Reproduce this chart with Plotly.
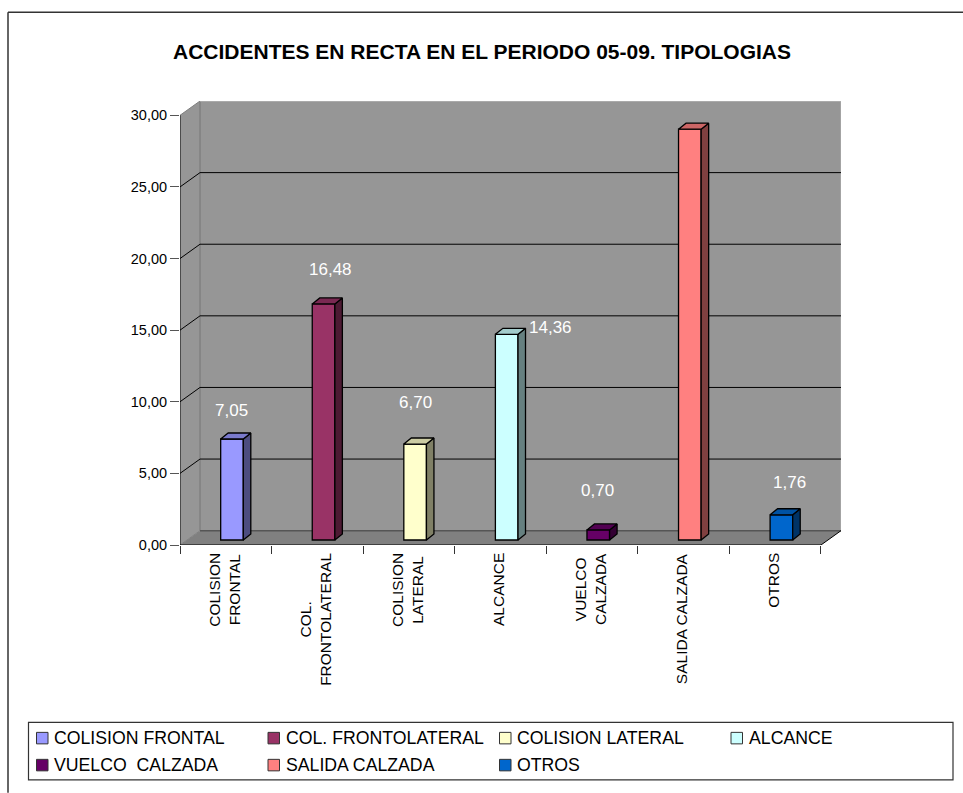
import plotly.graph_objects as go

categories = ["COLISION FRONTAL", "COL. FRONTOLATERAL", "COLISION LATERAL", "ALCANCE",
              "VUELCO  CALZADA", "SALIDA CALZADA", "OTROS"]
axis_labels = ["COLISION<br>FRONTAL", "COL.<br>FRONTOLATERAL", "COLISION<br>LATERAL", "ALCANCE",
               "VUELCO<br>CALZADA", "SALIDA CALZADA", "OTROS"]
values = [7.05, 16.48, 6.70, 14.36, 0.70, 28.68, 1.76]
value_labels = ["7,05", "16,48", "6,70", "14,36", "0,70", "28,68", "1,76"]
y_ticks = [0, 5, 10, 15, 20, 25, 30]
y_tick_labels = ["0,00", "5,00", "10,00", "15,00", "20,00", "25,00", "30,00"]
title = "ACCIDENTES EN RECTA EN EL PERIODO 05-09. TIPOLOGIAS"

# styles
front_colors = ["#9999FF", "#993366", "#FFFFCC", "#CCFFFF", "#660066", "#FF8080", "#0066CC"]
side_colors = ["#4D4D80", "#4D1A33", "#808066", "#668080", "#330033", "#804040", "#003366"]
top_colors = ["#7A7ACC", "#7A2952", "#CCCCA3", "#A3CCCC", "#520052", "#CC6666", "#0052A3"]
label_shift_x = [0, 7, 0, 44, -1, 3, 8]
label_shift_y = [29, 34, 42, 7, 39, 36, 32]

FONT = "Liberation Sans, Arial, sans-serif"
L, R, T, B = 180.0, 841.0, 100.7, 545.0   # plot-area pixel box
WALL_DX, WALL_DY = 20 / 91.5, 1.0          # depth of the chart floor, in axis units
BAR_DX, BAR_DY = 7.5 / 91.5, 0.42          # depth of a bar
BAR_X, BAR_BASE = 6.2 / 91.5, 0.35         # where bars stand on the floor
BAR_W = 22.6 / 91.5
n = len(categories)


def px(x):
    return (x - L) / (R - L)


def py(y):
    return (B - y) / (B - T)


def path(points):
    return "M" + " L".join(f"{a},{b}" for a, b in points) + " Z"


fig = go.Figure()
shapes = []


def area(points, fill, layer="below"):
    shapes.append(dict(type="path", xref="x", yref="y", path=path(points), fillcolor=fill,
                       line=dict(width=0), layer=layer))


def seg(a, b, color, width=1, layer="below"):
    shapes.append(dict(type="line", xref="x", yref="y", x0=a[0], y0=a[1], x1=b[0], y1=b[1],
                       line=dict(color=color, width=width), layer=layer))


top = y_ticks[-1]
# walls and floor
area([(WALL_DX, WALL_DY), (n + WALL_DX, WALL_DY), (n + WALL_DX, top + WALL_DY), (WALL_DX, top + WALL_DY)], "#969696")
area([(0, 0), (WALL_DX, WALL_DY), (WALL_DX, top + WALL_DY), (0, top)], "#969696")
area([(0, 0), (n, 0), (n + WALL_DX, WALL_DY), (WALL_DX, WALL_DY)], "#808080")
seg((WALL_DX, WALL_DY), (WALL_DX, top + WALL_DY), "#808080", 1.5)
seg((n + WALL_DX, WALL_DY), (n + WALL_DX, top + WALL_DY), "#B0B0B0", 1)
seg((0, top), (WALL_DX, top + WALL_DY), "#808080", 1)
seg((WALL_DX, top + WALL_DY), (n + WALL_DX, top + WALL_DY), "#B0B0B0", 1.5)
seg((0, 0), (WALL_DX, WALL_DY), "#808080", 1)
seg((WALL_DX, WALL_DY), (n + WALL_DX, WALL_DY), "#555555", 1.5)
seg((n, 0), (n + WALL_DX, WALL_DY), "#000000", 1)
for t in y_ticks[1:-1]:
    seg((0, t), (WALL_DX, t + WALL_DY), "#000000", 1)
    seg((WALL_DX, t + WALL_DY), (n + WALL_DX, t + WALL_DY), "#000000", 1)
# axis lines
seg((0, 0), (0, top), "#000000", 1, "above")
seg((0, 0), (n, 0), "#000000", 1, "above")

annotations = []
for i, (v, name) in enumerate(zip(values, categories)):
    cx = i + 0.5 + BAR_X
    x0, x1 = cx - BAR_W / 2, cx + BAR_W / 2
    y0, y1 = BAR_BASE, BAR_BASE + v
    fig.add_trace(go.Bar(x=[cx], y=[v], base=[BAR_BASE], width=[BAR_W], name=name,
                         marker=dict(color=front_colors[i], line=dict(color="#000000", width=1.3)),
                         showlegend=False, hoverinfo="name+y"))
    fig.add_trace(go.Scatter(x=[x1, x1 + BAR_DX, x1 + BAR_DX, x1, x1], y=[y0, y0 + BAR_DY, y1 + BAR_DY, y1, y0],
                             mode="lines", fill="toself", fillcolor=side_colors[i],
                             line=dict(color="#000000", width=1.3), showlegend=False, hoverinfo="skip"))
    fig.add_trace(go.Scatter(x=[x0, x1, x1 + BAR_DX, x0 + BAR_DX, x0], y=[y1, y1, y1 + BAR_DY, y1 + BAR_DY, y1],
                             mode="lines", fill="toself", fillcolor=top_colors[i],
                             line=dict(color="#000000", width=1.3), showlegend=False, hoverinfo="skip"))
    annotations.append(dict(x=cx, y=y1, xref="x", yref="y", text=value_labels[i], showarrow=False,
                            xshift=label_shift_x[i], yshift=label_shift_y[i], yanchor="middle",
                            font=dict(family=FONT, size=17, color="#FFFFFF")))
    annotations.append(dict(x=i + 0.5, y=0, xref="x", yref="y", text=axis_labels[i], showarrow=False,
                            textangle=-90, yanchor="top", yshift=-6, xshift=-2, align="center",
                            font=dict(family=FONT, size=15.5, color="#000000")))

annotations.append(dict(x=px(482), y=py(51), xref="paper", yref="paper", text=f"<b>{title}</b>", showarrow=False,
                        xanchor="center", yanchor="middle",
                        font=dict(family=FONT, size=21, color="#000000")))

# chart frame
frame = dict(type="line", xref="paper", yref="paper", line=dict(color="#333333", width=1.5), layer="above")
shapes.append(dict(frame, x0=px(8), x1=px(963), y0=py(12), y1=py(12)))
shapes.append(dict(frame, x0=px(8), x1=px(8), y0=py(12), y1=py(793)))

# legend box and entries
shapes.append(dict(type="rect", xref="paper", yref="paper", x0=px(28.5), x1=px(953), y0=py(722.5), y1=py(780),
                   line=dict(color="#333333", width=1.2), fillcolor="#FFFFFF", layer="above"))
for i, name in enumerate(categories):
    col, row = i % 4, i // 4
    sx = 36.5 + 231.5 * col
    sy = 732.5 + 27 * row
    shapes.append(dict(type="rect", xref="paper", yref="paper", x0=px(sx), x1=px(sx + 11.5), y0=py(sy), y1=py(sy + 11.5),
                       fillcolor=front_colors[i], line=dict(color="#333333", width=1), layer="above"))
    annotations.append(dict(x=px(sx + 15.5), y=py(sy + 6), xref="paper", yref="paper",
                            text=name.replace("  ", "\u00a0\u00a0"), showarrow=False, xanchor="left",
                            yanchor="middle", font=dict(family=FONT, size=17.7, color="#000000")))

fig.update_layout(
    width=963, height=793, autosize=False, barmode="overlay", showlegend=False,
    margin=dict(l=L, r=963 - R, t=T, b=793 - B, pad=0),
    paper_bgcolor="#FFFFFF", plot_bgcolor="#FFFFFF",
    shapes=shapes, annotations=annotations,
    xaxis=dict(range=[0, n + WALL_DX], tickmode="array", tickvals=list(range(n + 1)), showticklabels=False,
               ticks="outside", ticklen=8, tickcolor="#333333", tickwidth=1, showgrid=False, zeroline=False, showline=False),
    yaxis=dict(range=[0, top + WALL_DY], tickmode="array", tickvals=y_ticks, ticktext=y_tick_labels,
               ticks="outside", ticklen=9, tickcolor="#555555", tickwidth=1, showgrid=False, zeroline=False, showline=False,
               tickfont=dict(family=FONT, size=14.5, color="#000000")),
)
fig.write_html("out.html", config={"displayModeBar": False},
               post_script="document.body.style.margin='0';document.documentElement.style.overflow='hidden';")
